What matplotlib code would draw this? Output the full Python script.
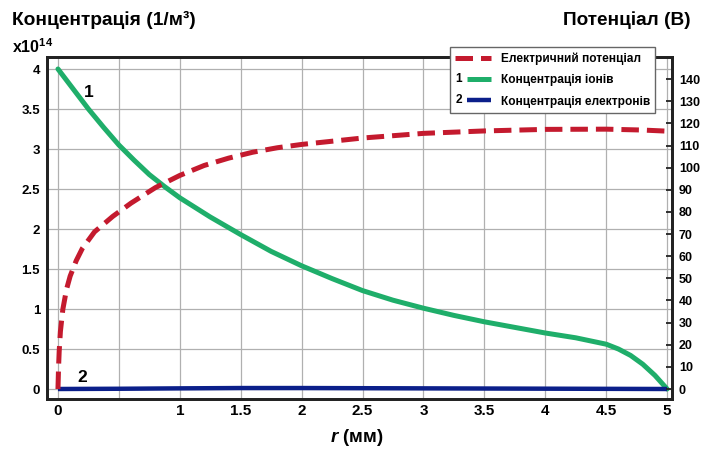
import matplotlib
matplotlib.use("Agg")
import matplotlib.pyplot as plt
from matplotlib.lines import Line2D
from matplotlib.text import Text
from matplotlib.legend_handler import HandlerBase

plt.rcParams['font.family'] = ['Liberation Sans', 'DejaVu Sans']
plt.rcParams['font.weight'] = 'bold'
plt.rcParams['mathtext.fontset'] = 'custom'
plt.rcParams['mathtext.rm'] = 'Liberation Sans:bold'
plt.rcParams['mathtext.it'] = 'Liberation Sans:bold:italic'
plt.rcParams['mathtext.bf'] = 'Liberation Sans:bold'

# Ion concentration (x10^14 1/m^3) vs radius (mm)
r_ion = [0, 0.125, 0.25, 0.375, 0.5, 0.625, 0.75, 0.875, 1.0, 1.25, 1.5, 1.75,
         2.0, 2.25, 2.5, 2.75, 3.0, 3.25, 3.5, 3.75, 4.0, 4.25, 4.5, 4.6,
         4.7, 4.8, 4.9, 5.0]
n_ion = [4.0, 3.75, 3.5, 3.27, 3.05, 2.86, 2.68, 2.53, 2.39, 2.15, 1.93, 1.72,
         1.54, 1.38, 1.23, 1.11, 1.01, 0.92, 0.84, 0.77, 0.70, 0.64, 0.56, 0.50,
         0.42, 0.31, 0.17, 0.0]

# Electron concentration (x10^14 1/m^3)
r_el = [0, 0.5, 1.0, 1.5, 2.0, 2.5, 3.0, 3.5, 4.0, 4.5, 5.0]
n_el = [0, 0.003, 0.008, 0.012, 0.012, 0.010, 0.008, 0.006, 0.004, 0.002, 0.0]

# Electric potential (V)
r_pot = [0, 0.005, 0.01, 0.02, 0.04, 0.07, 0.1, 0.15, 0.2, 0.3, 0.45, 0.6,
         0.8, 1.0, 1.2, 1.4, 1.6, 1.8, 2.0, 2.5, 3.0, 3.5, 4.0, 4.5, 4.8, 5.0]
pot = [0, 10, 17, 26, 36, 45, 51, 58, 63.5, 71, 78, 84,
       91, 96.5, 101, 104.3, 107, 109, 110.5, 113.4, 115.5, 116.6, 117.3, 117.4, 117.0, 116.5]

x_ticks = [0, 0.5, 1, 1.5, 2, 2.5, 3, 3.5, 4, 4.5, 5]
x_ticklabels = ['0', '', '1', '1.5', '2', '2.5', '3', '3.5', '4', '4.5', '5']
y_ticks = [0, 0.5, 1, 1.5, 2, 2.5, 3, 3.5, 4]
y_ticklabels = ['0', '0.5', '1', '1.5', '2', '2.5', '3', '3.5', '4']
y2_ticks = list(range(0, 150, 10))

GREEN = '#1fae6a'
RED = '#c41a2e'
NAVY = '#0b1f8a'
SPINE = '#222222'

fig = plt.figure(figsize=(7.01, 4.5), dpi=100)
ax = fig.add_axes([47 / 701, 1 - 399 / 450, (672 - 47) / 701, (399 - 57) / 450])
ax2 = ax.twinx()

ax.set_xlim(-0.09, 5.04)
ax.set_ylim(-0.125, 4.15)
ax2.set_ylim(-4.5, 150)

ax.set_xticks(x_ticks)
ax.set_xticklabels(x_ticklabels, fontsize=11, fontweight='bold')
ax.set_yticks(y_ticks)
ax.set_yticklabels(y_ticklabels, fontsize=9.5, fontweight='bold')
ax.tick_params(axis='both', length=0)
ax.tick_params(axis='x', pad=3.5)
ax.tick_params(axis='y', pad=5)

ax2.set_yticks(y2_ticks)
ax2.set_yticklabels([str(v) for v in y2_ticks], fontsize=9, fontweight='bold')
ax2.tick_params(axis='y', direction='in', length=4, width=1.3, color=SPINE, pad=5)

ax.grid(True, color='#b0b0b0', linewidth=0.9)
ax.set_axisbelow(True)

for a in (ax, ax2):
    for s in a.spines.values():
        s.set_color(SPINE)
        s.set_linewidth(2.0)

ion_line, = ax.plot(r_ion, n_ion, color=GREEN, lw=3.6, solid_capstyle='round',
                    solid_joinstyle='round', zorder=3)
el_line, = ax.plot(r_el, n_el, color=NAVY, lw=3.2, solid_capstyle='butt', zorder=5)
pot_line, = ax2.plot(r_pot, pot, color=RED, lw=3.6, linestyle=(0, (3.5, 1.6)), zorder=4)

ax.text(0.25, 3.71, '1', fontsize=12.5, fontweight='bold', ha='center', va='center')
ax.text(0.2, 0.14, '2', fontsize=12.5, fontweight='bold', ha='center', va='center')

fig.text(12 / 701, 1 - 20 / 450, 'Концентрація (1/м³)', fontsize=13.8, fontweight='bold',
         ha='left', va='center')
fig.text(12 / 701, 1 - 47 / 450, 'x10$^{14}$', fontsize=11.5, fontweight='bold',
         ha='left', va='center')
fig.text(691 / 701, 1 - 20 / 450, 'Потенціал (В)', fontsize=13.7, fontweight='bold',
         ha='right', va='center')
fig.text(357 / 701, 1 - 437 / 450, '$r$ (мм)', fontsize=13.5, fontweight='bold',
         ha='center', va='center')


class NumberedHandler(HandlerBase):
    def __init__(self, num, **kw):
        super().__init__(**kw)
        self.num = num

    def create_artists(self, legend, orig_handle, xdescent, ydescent,
                       width, height, fontsize, trans):
        y = height / 2 - ydescent
        x0 = -xdescent
        line = Line2D([x0 + width * 0.32, x0 + width], [y, y],
                      color=orig_handle.get_color(), lw=orig_handle.get_linewidth(),
                      solid_capstyle='butt')
        line.set_transform(trans)
        txt = Text(x0 + width * 0.1, y, self.num, ha='center', va='center',
                   fontsize=fontsize, fontweight='bold')
        txt.set_transform(trans)
        return [line, txt]


leg = fig.legend([pot_line, ion_line, el_line],
                 ['Електричний потенціал', 'Концентрація іонів', 'Концентрація електронів'],
                 handler_map={ion_line: NumberedHandler('1'), el_line: NumberedHandler('2')},
                 loc='upper left', bbox_to_anchor=(450 / 701, 1 - 47 / 450),
                 bbox_transform=fig.transFigure, borderaxespad=0,
                 prop={'size': 8.6, 'weight': 'bold'}, handlelength=2.95,
                 handletextpad=0.85, labelspacing=0.78, borderpad=0.45,
                 fancybox=False, framealpha=1, edgecolor='#666666')
leg.get_frame().set_linewidth(1.0)

fig.savefig('out.png', dpi=100)
